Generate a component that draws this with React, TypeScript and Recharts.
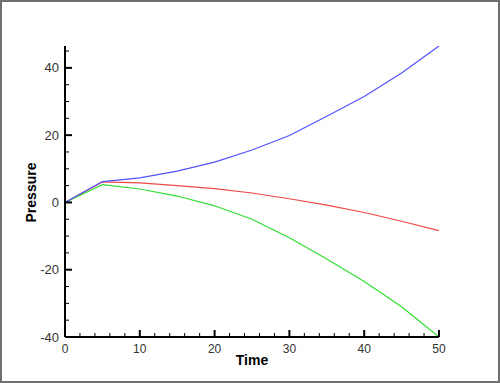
import React from "react";
import { LineChart, Line, XAxis, YAxis } from "recharts";

// time steps and the three pressure curves
const time = [0, 5, 10, 15, 20, 25, 30, 35, 40, 45, 50];
const pressureBlue = [0, 6.2, 7.3, 9.3, 12, 15.6, 19.9, 25.6, 31.5, 38.5, 46.5];
const pressureRed = [0, 6.1, 5.8, 5.0, 4.1, 2.8, 1.1, -0.8, -3.0, -5.6, -8.4];
const pressureGreen = [0, 5.3, 4.0, 1.9, -1.0, -5.0, -10.5, -16.8, -23.5, -31.0, -40];

const xTicks = [0, 2, 4, 6, 8, 10, 12, 14, 16, 18, 20, 22, 24, 26, 28, 30, 32, 34, 36, 38, 40, 42, 44, 46, 48, 50];
const yTicks = [-40, -35, -30, -25, -20, -15, -10, -5, 0, 5, 10, 15, 20, 25, 30, 35, 40, 45];

const data = time.map((t, i) => ({
    time: t,
    blue: pressureBlue[i],
    red: pressureRed[i],
    green: pressureGreen[i],
}));

const FONT = "'Liberation Sans', Arial, Helvetica, sans-serif";

const XTick = ({ x, y, payload }: any) => {
    const major = payload.value % 10 === 0;
    return (
        <g>
            <line x1={x} y1={y} x2={x} y2={y - (major ? 7 : 4)} stroke="#000" strokeWidth={major ? 2 : 1} />
            {major && (
                <text x={x} y={y + 16} textAnchor="middle" fontSize={12} fill="#333" fontFamily={FONT}>
                    {payload.value}
                </text>
            )}
        </g>
    );
};

const YTick = ({ x, y, payload }: any) => {
    const major = payload.value % 20 === 0;
    return (
        <g>
            <line x1={x} y1={y} x2={x + (major ? 7 : 4)} y2={y} stroke="#000" strokeWidth={major ? 2 : 1} />
            {major && (
                <text x={x - 6} y={y + 4.5} textAnchor="end" fontSize={13} fill="#333" fontFamily={FONT}>
                    {payload.value}
                </text>
            )}
        </g>
    );
};

export default function App() {
    return (
        <div style={{ position: "absolute", left: 0, top: 0, width: 500, height: 383, background: "#fff" }}>
            <LineChart width={500} height={383} data={data} margin={{ top: 46, right: 61, bottom: 26, left: 45 }}>
                <XAxis
                    dataKey="time"
                    type="number"
                    domain={[0, 50]}
                    ticks={xTicks}
                    interval={0}
                    height={20}
                    tickSize={0}
                    tickMargin={0}
                    tickLine={false}
                    axisLine={{ stroke: "#000", strokeWidth: 2 }}
                    tick={<XTick />}
                    label={{
                        content: ({ viewBox }: any) => (
                            <text
                                x={viewBox.x + viewBox.width / 2}
                                y={viewBox.y + 28}
                                textAnchor="middle"
                                fontSize={14}
                                fontWeight="bold"
                                fontFamily={FONT}
                                fill="#000"
                            >
                                Time
                            </text>
                        ),
                    }}
                />
                <YAxis
                    type="number"
                    domain={[-40, 46.5]}
                    allowDataOverflow
                    ticks={yTicks}
                    interval={0}
                    width={20}
                    tickSize={0}
                    tickMargin={0}
                    tickLine={false}
                    axisLine={{ stroke: "#000", strokeWidth: 2 }}
                    tick={<YTick />}
                    label={{
                        content: ({ viewBox }: any) => {
                            const cx = viewBox.x - 9;
                            const cy = viewBox.y + viewBox.height / 2 + 1;
                            return (
                                <text
                                    x={cx}
                                    y={cy}
                                    transform={`rotate(-90, ${cx}, ${cy})`}
                                    textAnchor="middle"
                                    fontSize={14}
                                    fontWeight="bold"
                                    fontFamily={FONT}
                                    fill="#000"
                                >
                                    Pressure
                                </text>
                            );
                        },
                    }}
                />
                <Line type="linear" dataKey="red" stroke="#ee4848" strokeWidth={1.2} dot={false} isAnimationActive={false} />
                <Line type="linear" dataKey="green" stroke="#33dd33" strokeWidth={1.2} dot={false} isAnimationActive={false} />
                <Line type="linear" dataKey="blue" stroke="#5252ff" strokeWidth={1.2} dot={false} isAnimationActive={false} />
            </LineChart>
            <div
                style={{
                    position: "absolute",
                    left: 0,
                    top: 0,
                    width: 500,
                    height: 383,
                    boxSizing: "border-box",
                    border: "2px solid #707070",
                    pointerEvents: "none",
                }}
            />
        </div>
    );
}
